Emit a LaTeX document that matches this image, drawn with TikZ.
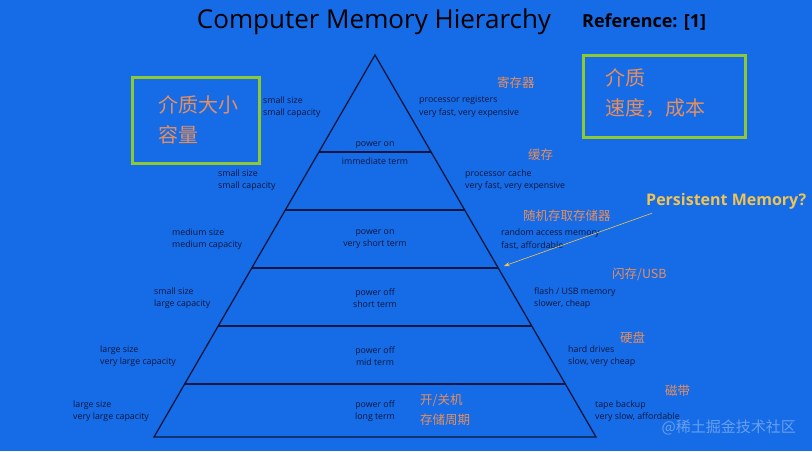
\documentclass[tikz,border=0pt]{standalone}
\usepackage{fontspec}
\setmainfont{Open Sans}
\setsansfont{Open Sans}
\newfontfamily\cjk{Noto Sans CJK SC}
\usetikzlibrary{arrows.meta,positioning}
\definecolor{bgblue}{RGB}{22,108,230}
\definecolor{inkdark}{RGB}{12,22,62}
\definecolor{zhorange}{RGB}{232,142,92}
\definecolor{boxgreen}{RGB}{142,200,52}
\definecolor{pmyellow}{RGB}{240,196,84}

\begin{document}
\begin{tikzpicture}[
    x=1pt, y=-1pt,
    every node/.style={inner sep=0pt},
    note/.style={font=\fontsize{8.8}{12.5}\selectfont, text=inkdark, align=left, anchor=west},
    tier/.style={font=\fontsize{8.8}{12.5}\selectfont, text=inkdark, align=center},
    zh/.style={font=\cjk\fontsize{12.5}{14}\selectfont, text=zhorange, anchor=west},
    zhbig/.style={font=\cjk\fontsize{20}{30}\selectfont, text=zhorange, align=left, anchor=west},
    greenbox/.style={draw=boxgreen, line width=3pt},
    layer/.style={draw=inkdark, line width=1.3pt},
    arr/.style={-{Stealth[length=2mm]}, line width=0.6pt, color=pmyellow}
]
\fill[bgblue] (0,0) rectangle (812,451);
\useasboundingbox (0,0) rectangle (812,451);

% title
\node (title) [font=\fontsize{26}{30}\selectfont, text=black] at (374,22) {Computer Memory Hierarchy};
\node (ref) [font=\bfseries\fontsize{18}{21}\selectfont, text=black, anchor=west] at (582,22) {Reference: [1]};

% pyramid
\coordinate (apex) at (375,55);
\coordinate (bl) at (154,437);
\coordinate (br) at (596,437);
\draw[layer] (bl) -- (apex) -- (br) -- cycle;
\foreach \yy in {152,210,268,326,384} {
  \pgfmathsetmacro{\hw}{0.5785*(\yy-55)}
  \draw[layer] (375-\hw,\yy) -- (375+\hw,\yy);
}

% tier texts
\node (t1) [tier] at (375,153) {power on\\[5pt]immediate term};
\node (t2) [tier] at (375,239) {power on\\very short term};
\node (t3) [tier] at (375,298) {power off\\short term};
\node (t4) [tier] at (375,356) {power off\\mid term};
\node (t5) [tier] at (375,411) {power off\\long term};
\node (t5zh) [zh, align=left, font=\cjk\fontsize{12.5}{20}\selectfont] at (420,410) {开/关机\\存储周期};

% left notes
\node (l0) [note] at (263,107) {small size\\small capacity};
\node (l1) [note] at (218,180) {small size\\small capacity};
\node (l2) [note] at (172,239) {medium size\\medium capacity};
\node (l3) [note] at (154,298) {small size\\large capacity};
\node (l4) [note] at (100,356) {large size\\very large capacity};
\node (l5) [note] at (73,411) {large size\\very large capacity};

% right notes
\node (r0zh) [zh] at (497,83) {寄存器};
\node (r0) [note] at (419,107) {processor registers\\very fast, very expensive};
\node (r1zh) [zh] at (528,155) {缓存};
\node (r1) [note] at (465,180) {processor cache\\very fast, very expensive};
\node (r2zh) [zh] at (523,216) {随机存取存储器};
\node (r2) [note] at (501,239) {random access memory\\fast, affordable};
\node (r3zh) [zh] at (612,274) {闪存/USB};
\node (r3) [note] at (534,298) {flash / USB memory\\slower, cheap};
\node (r4zh) [zh] at (620,338) {硬盘};
\node (r4) [note] at (568,356) {hard drives\\slow, very cheap};
\node (r5zh) [zh] at (665,391) {磁带};
\node (r5) [note] at (595,411) {tape backup\\very slow, affordable};

% side boxes
\draw[greenbox] (132,77) rectangle (259,163);
\node (boxl) [zhbig] at (158,120) {介质大小\\容量};
\draw[greenbox] (583,55) rectangle (745,137);
\node (boxr) [zhbig] at (605,93) {介质\\速度，成本};

% persistent memory
\node (pm) [font=\bfseries\fontsize{16}{19}\selectfont, text=pmyellow, anchor=west] at (646,201) {Persistent Memory?};
\coordinate (pmstart) at ([shift={(6,4)}]pm.south west);
\coordinate (pmend) at (504,266);
\draw[arr] (pmstart) -- (pmend);

% watermark
\node (wm) [font=\cjk\fontsize{15}{18}\selectfont, text=white, opacity=0.35, anchor=east] at (796,427) {@稀土掘金技术社区};
\end{tikzpicture}
\end{document}
